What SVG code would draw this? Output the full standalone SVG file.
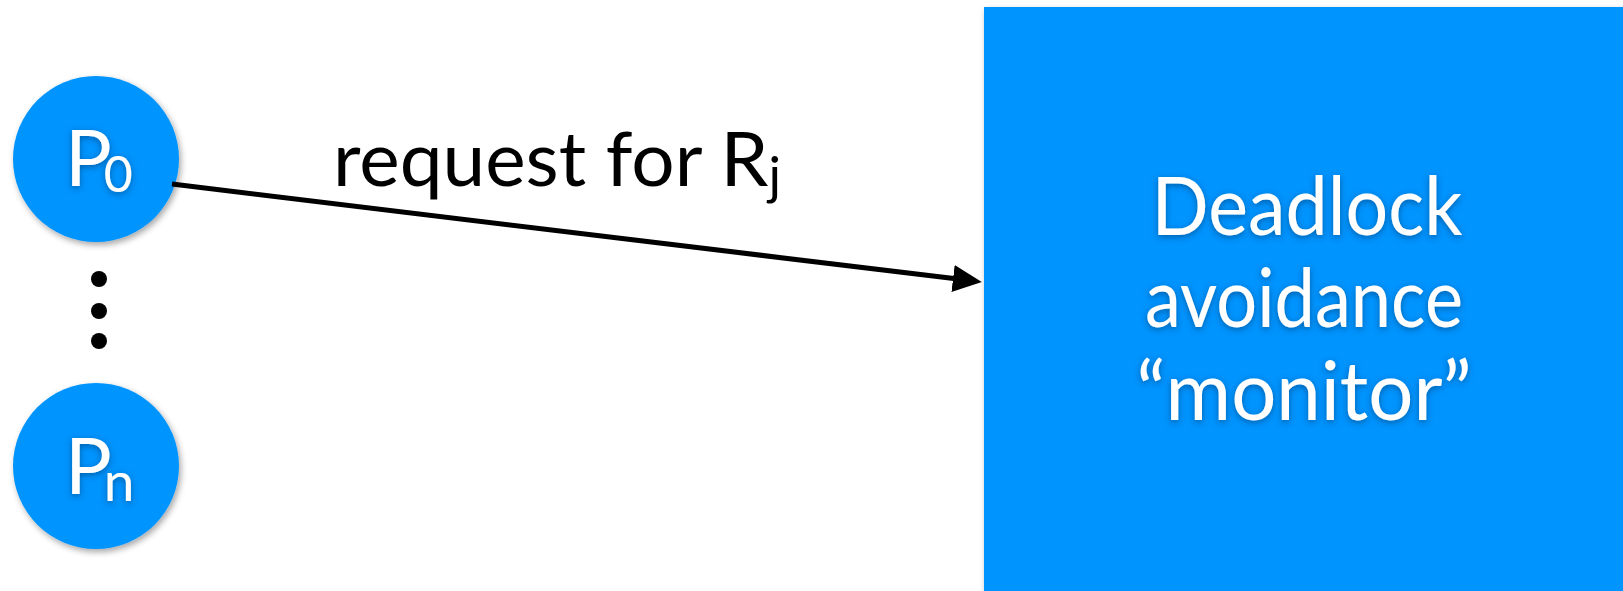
<svg xmlns="http://www.w3.org/2000/svg" width="1623" height="591" viewBox="0 0 1623 591">
  <style>
    .node { fill: #0094fe; }
    .label { font-family: Lato, "Liberation Sans", sans-serif; fill: #ffffff; }
    .edge-label { font-family: Lato, "Liberation Sans", sans-serif; fill: #000000; }
    .edge { stroke: #000000; stroke-width: 5; fill: none; }
  </style>
  <defs>
    <filter id="shapeShadow" x="-10%" y="-10%" width="125%" height="125%">
      <feDropShadow dx="2" dy="3" stdDeviation="3" flood-color="#000000" flood-opacity="0.35"/>
    </filter>
    <filter id="textShadow" x="-10%" y="-20%" width="120%" height="150%">
      <feDropShadow dx="0" dy="2" stdDeviation="3" flood-color="#003060" flood-opacity="0.55"/>
    </filter>
    <marker id="arrowhead" markerUnits="userSpaceOnUse" markerWidth="30" markerHeight="28" refX="5" refY="13.5" orient="auto">
      <path d="M0,0 L29,13.5 L0,27 Z" fill="#000000"/>
    </marker>
  </defs>

  <rect width="1623" height="591" fill="#ffffff"/>

  <!-- process P0 -->
  <g id="node-p0">
    <circle class="node" cx="96" cy="159" r="83" filter="url(#shapeShadow)"/>
    <text class="label" x="65" y="186" font-size="78" filter="url(#textShadow)"><tspan letter-spacing="-8">P</tspan><tspan dy="6" font-size="50">0</tspan></text>
  </g>

  <!-- ellipsis between processes -->
  <g id="ellipsis" fill="#000000">
    <circle cx="99" cy="279" r="8"/>
    <circle cx="99" cy="311" r="8"/>
    <circle cx="99" cy="341" r="8"/>
  </g>

  <!-- process Pn -->
  <g id="node-pn">
    <circle class="node" cx="96" cy="466" r="83" filter="url(#shapeShadow)"/>
    <text class="label" x="65" y="494" font-size="78" filter="url(#textShadow)"><tspan letter-spacing="-8">P</tspan><tspan dy="7" font-size="55">n</tspan></text>
  </g>

  <!-- avoidance monitor -->
  <g id="node-monitor">
    <rect class="node" x="984" y="7" width="660" height="600" filter="url(#shapeShadow)"/>
    <g class="label" font-size="82" text-anchor="middle" filter="url(#textShadow)">
      <text x="1307" y="235" textLength="311" lengthAdjust="spacingAndGlyphs">Deadlock</text>
      <text x="1304" y="327" textLength="318" lengthAdjust="spacingAndGlyphs">avoidance</text>
      <text x="1304" y="420" textLength="335" lengthAdjust="spacingAndGlyphs">“monitor”</text>
    </g>
  </g>

  <!-- connectors -->
  <g id="connectors">
    <line class="edge" x1="172" y1="184" x2="958" y2="279.1" marker-end="url(#arrowhead)"/>
    <text class="edge-label" x="333" y="186" font-size="76" textLength="448" lengthAdjust="spacingAndGlyphs">request for R<tspan dy="8" font-size="52">j</tspan></text>
  </g>
</svg>
